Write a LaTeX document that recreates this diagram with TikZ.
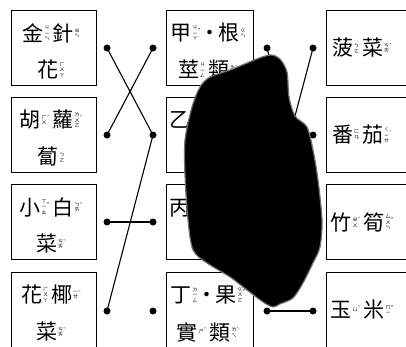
\documentclass[tikz,border=0pt]{standalone}
\usepackage{fontspec}
\newfontfamily\cjk{Noto Sans CJK TC}
\newcommand\zyst[1]{\setbox0\vbox{\fontsize{5}{5.6}\selectfont\lineskiplimit=-20pt\lineskip=0pt\halign{\hfil##\hfil\cr#1\crcr}}\raise\dimexpr7.8pt-(\ht0-\dp0)/2\relax\box0}
\newcommand\cz[3]{\mbox{{\fontsize{21}{21}\selectfont#1}\kern1pt\zyst{#2}\raise8.5pt\hbox{\fontsize{5}{5}\selectfont#3}}}
\newcommand\gap{\kern3pt}
\newcommand\pd{{\fontsize{21}{21}\selectfont\kern-1.5pt·\kern-1.5pt}}
\begin{document}
\begin{tikzpicture}[x=1pt,y=-1pt,
  box/.style={draw,line width=1pt,minimum width=85pt,minimum height=75pt,inner sep=0pt,anchor=north west},
  mbox/.style={box,minimum width=87pt},
  dot/.style={circle,fill,inner sep=0pt,minimum size=7pt},
  row/.style={inner sep=0pt,font=\cjk},
  link/.style={line width=1.1pt}]
\useasboundingbox (0,0) rectangle (406,346);
\clip (0,0) rectangle (406,346);
% boxes
\foreach \n/\y in {1/10,2/97,3/184,4/272}{
  \node[box] (L\n) at (11,\y) {};
  \node[mbox] (M\n) at (166,\y) {};
  \node[box] (R\n) at (326,\y) {};
}
% left texts
\node[row] (L1a) at (51,33) {\cz{金}{ㄐ\cr ㄧ\cr ㄣ}{}\gap\cz{針}{ㄓ\cr ㄣ}{}};
\node[row] (L1b) at (51,70) {\cz{花}{ㄏ\cr ㄨ\cr ㄚ}{}};
\node[row] (L2a) at (51,120) {\cz{胡}{ㄏ\cr ㄨ}{ˊ}\gap\cz{蘿}{ㄌ\cr ㄨ\cr ㄛ}{ˊ}};
\node[row] (L2b) at (51,157) {\cz{蔔}{ㄅ\cr ㄛ}{}};
\node[row] (L3a) at (51,207) {\cz{小}{ㄒ\cr ㄧ\cr ㄠ}{ˇ}\gap\cz{白}{ㄅ\cr ㄞ}{ˊ}};
\node[row] (L3b) at (51,244) {\cz{菜}{ㄘ\cr ㄞ}{ˋ}};
\node[row] (L4a) at (51,295) {\cz{花}{ㄏ\cr ㄨ\cr ㄚ}{}\gap\cz{椰}{ㄧ\cr ㄝ}{ˊ}};
\node[row] (L4b) at (51,332) {\cz{菜}{ㄘ\cr ㄞ}{ˋ}};
% middle texts
\node[row] (M1a) at (208,33) {\cz{甲}{ㄐ\cr ㄧ\cr ㄚ}{ˇ}\pd\cz{根}{ㄍ\cr ㄣ}{}};
\node[row] (M1b) at (208,70) {\cz{莖}{ㄐ\cr ㄧ\cr ㄥ}{}\gap\cz{類}{ㄌ\cr ㄟ}{ˋ}};
\node[row,anchor=west] (M2a) at (169,120) {{\fontsize{21}{21}\selectfont 乙}};
\node[row,anchor=west] (M3a) at (169,208) {{\fontsize{21}{21}\selectfont 丙}};
\node[row] (M4a) at (208,295) {\cz{丁}{ㄉ\cr ㄧ\cr ㄥ}{}\pd\cz{果}{ㄍ\cr ㄨ\cr ㄛ}{ˇ}};
\node[row] (M4b) at (208,332) {\cz{實}{ㄕ}{ˊ}\gap\cz{類}{ㄌ\cr ㄟ}{ˋ}};
% right texts
\node[row] (R1a) at (362,48) {\cz{菠}{ㄅ\cr ㄛ}{}\gap\cz{菜}{ㄘ\cr ㄞ}{ˋ}};
\node[row] (R2a) at (362,135) {\cz{番}{ㄈ\cr ㄢ}{}\gap\cz{茄}{ㄑ\cr ㄧ\cr ㄝ}{ˊ}};
\node[row] (R3a) at (362,222) {\cz{竹}{ㄓ\cr ㄨ}{ˊ}\gap\cz{筍}{ㄙ\cr ㄨ\cr ㄣ}{ˇ}};
\node[row] (R4a) at (362,310) {\cz{玉}{ㄩ}{ˋ}\gap\cz{米}{ㄇ\cr ㄧ}{ˇ}};
% dots
\foreach \n/\y in {1/48,2/135,3/222,4/311}{
  \node[dot] (a\n) at (107,\y) {};
  \node[dot] (b\n) at (153,\y) {};
  \node[dot] (c\n) at (267,\y) {};
  \node[dot] (d\n) at (313,\y) {};
}
% links
\draw[link] (a1.center) -- (b2.center);
\draw[link] (a2.center) -- (b1.center);
\draw[link] (a3.center) -- (b3.center);
\draw[link] (a4.center) -- (b2.center);
\draw[link] (c1.center) -- (d3.center);
\draw[link] (c3.center) -- (d1.center);
\draw[link] (c4.center) -- (d4.center);
% ink blot
\filldraw[fill=black,draw=black!55,line width=1.2pt] plot[smooth cycle,tension=0.5] coordinates {
 (272,55) (280,59) (287,72) (289,97) (295,116) (307,127) (313,150) (318,180)
 (322,220) (320,247) (313,263) (303,283) (293,298) (280,304) (273,307) (263,302)
 (247,290) (230,277) (207,263) (193,250) (188,220) (185,175) (185,140) (192,107)
 (200,87) (210,77) (230,70) (247,63) (262,57)};
\end{tikzpicture}
\end{document}
